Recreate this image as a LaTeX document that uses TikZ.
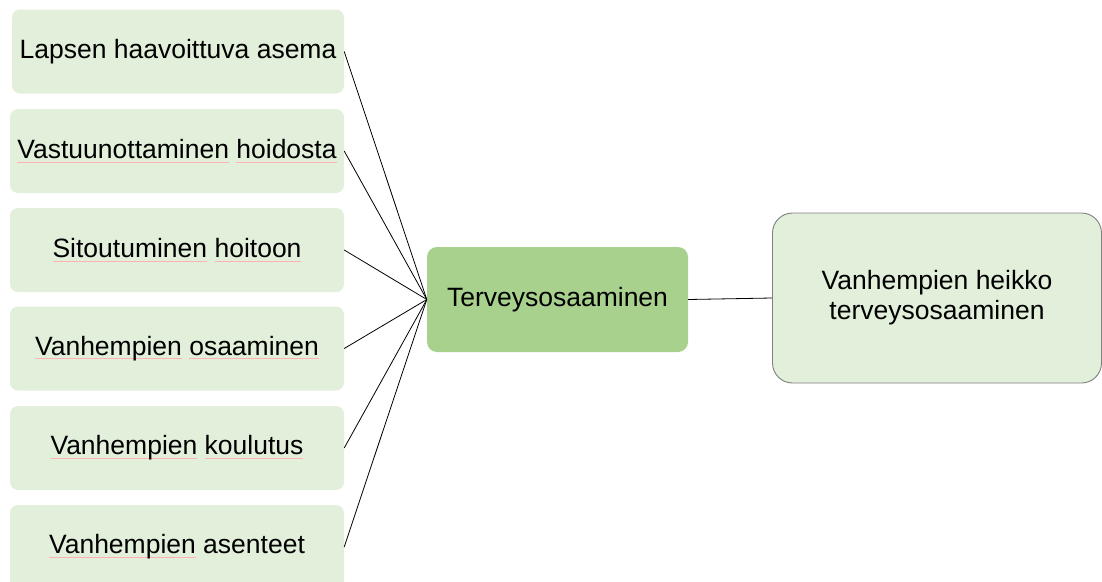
\documentclass[tikz,border=0pt]{standalone}
\usepackage{fontspec}
\setmainfont{Liberation Sans}
\definecolor{palegreen}{HTML}{E2EFDA}
\definecolor{midgreen}{HTML}{A9D18E}
\definecolor{framegray}{HTML}{7F7F7F}
% word with a faint red spelling mark beneath it
\newcommand\spellmark[1]{\setbox0=\hbox{#1}\rlap{\color{red!30}\rule[-3.5pt]{\wd0}{0.7pt}}\box0\relax}
\begin{document}
\begin{tikzpicture}[x=1pt,y=-1pt,
  every node/.style={font=\fontsize{26.5}{30}\selectfont, inner sep=0pt, align=center},
  cause/.style={fill=palegreen, rounded corners=8pt, minimum width=334pt, minimum height=84pt},
  core/.style={fill=midgreen, rounded corners=10pt, minimum width=261pt, minimum height=105pt},
  result/.style={fill=palegreen, draw=framegray, line width=0.9pt, rounded corners=20pt, minimum width=329pt, minimum height=170pt},
  link/.style={draw=black, line width=0.8pt}]
\useasboundingbox (0,0) rectangle (1102,581);
\clip (0,0) rectangle (1102,581);

\node[cause, minimum width=332pt] (b1) at (178,51.5) {Lapsen haavoittuva asema};
\node[cause] (b2) at (177,151) {\spellmark{Vastuunottaminen} \spellmark{hoidosta}};
\node[cause] (b3) at (177,250) {\spellmark{Sitoutuminen} \spellmark{hoitoon}};
\node[cause] (b4) at (177,348.5) {\spellmark{Vanhempien} \spellmark{osaaminen}};
\node[cause] (b5) at (177,448) {\spellmark{Vanhempien} \spellmark{koulutus}};
\node[cause] (b6) at (177,547) {\spellmark{Vanhempien} asenteet};

\node[core] (c) at (557.5,299.5) {Terveysosaaminen};
\node[result] (r) at (937,298) {Vanhempien heikko\\terveysosaaminen};

\foreach \b in {b1,b2,b3,b4,b5,b6}
  \draw[link] (\b.east) -- (c.west);
\draw[link] (c.east) -- (r.west);
\end{tikzpicture}
\end{document}
